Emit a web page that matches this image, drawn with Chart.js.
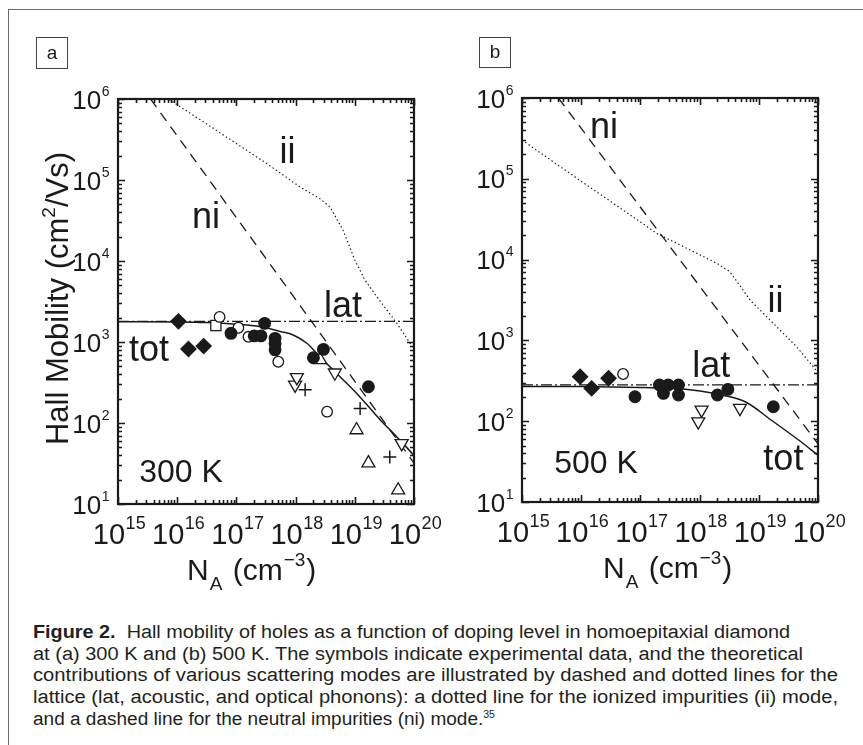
<!DOCTYPE html>
<html><head><meta charset="utf-8">
<script src="https://cdn.jsdelivr.net/npm/chart.js@4/dist/chart.umd.min.js"></script>
<style>
html,body{margin:0;padding:0;background:#fff;}
body{width:863px;height:745px;position:relative;overflow:hidden;font-family:"Liberation Sans",Arial,sans-serif;}
#frame{position:absolute;left:8px;top:9px;width:900px;height:800px;border-left:1.5px solid #6a6a6a;border-top:1.5px solid #6a6a6a;box-sizing:border-box;}
canvas{position:absolute;top:0;}
#cA{left:0;}
#cB{left:431px;}
#caption{position:absolute;left:33px;top:622px;font-size:18px;line-height:21.7px;color:#231f20;white-space:nowrap;}
#caption div{height:21.7px;transform-origin:0 0;}
#caption span{display:inline-block;}
#caption sup{font-size:10px;vertical-align:7px;line-height:0;}
</style>
</head>
<body>
<div id="frame"></div>
<canvas id="cA" width="460" height="600"></canvas>
<canvas id="cB" width="432" height="600"></canvas>
<div id="caption">
<div data-w="757"><span><b>Figure 2.</b>&nbsp; Hall mobility of holes as a function of doping level in homoepitaxial diamond</span></div>
<div data-w="770"><span>at (a) 300 K and (b) 500 K. The symbols indicate experimental data, and the theoretical</span></div>
<div data-w="805"><span>contributions of various scattering modes are illustrated by dashed and dotted lines for the</span></div>
<div data-w="805"><span>lattice (lat, acoustic, and optical phonons): a dotted line for the ionized impurities (ii) mode,</span></div>
<div data-w="462"><span>and a dashed line for the neutral impurities (ni) mode.<sup>35</sup></span></div>
</div>
<script>
// ---------- axis ticks ----------
const X_TICKS = [1e15, 1e16, 1e17, 1e18, 1e19, 1e20];
const X_TICK_EXP = ['15', '16', '17', '18', '19', '20'];
const Y_TICKS = [1e1, 1e2, 1e3, 1e4, 1e5, 1e6];
const Y_TICK_EXP = ['1', '2', '3', '4', '5', '6'];

// ---------- panel a : 300 K ----------
const a_filledDiamond_N = [1.05e16, 1.55e16, 2.8e16];
const a_filledDiamond_mu = [1800, 820, 890];
const a_openSquare_N = [4.5e16];
const a_openSquare_mu = [1600];
const a_openCircle_N = [5.2e16, 1.08e17, 1.6e17, 5.1e17, 3.4e18];
const a_openCircle_mu = [2040, 1500, 1160, 570, 138];
const a_filledCircle_N = [8.1e16, 2.0e17, 2.6e17, 3.0e17, 4.5e17, 4.5e17, 4.5e17, 2.0e18, 2.95e18, 1.7e19];
const a_filledCircle_mu = [1280, 1190, 1190, 1700, 1110, 960, 800, 640, 810, 280];
const a_downTri_N = [9.8e17, 1.05e18, 4.6e18, 6.2e19];
const a_downTri_mu = [295, 366, 417, 56];
const a_upTri_N = [2.6e18, 1.07e19, 1.7e19, 5.4e19];
const a_upTri_mu = [600, 82, 32, 14.8];
const a_plus_N = [1.45e18, 1.23e19, 3.9e19];
const a_plus_mu = [258, 151, 38];

const a_lat_N = [1e15, 1e20];
const a_lat_mu = [1800, 1800];
const a_ni_N = [3.55e15, 1e20];
const a_ni_mu = [1e6, 32];
const a_ii_N = [5.6e15, 3.16e16, 1e17, 3.16e17, 1.19e18, 2.57e18, 3.8e18, 4.37e18, 6.3e18, 1e19, 1.48e19, 2.37e19, 5.1e19, 8.5e19, 1e20];
const a_ii_mu = [1.12e6, 490000, 282000, 162000, 82000, 58900, 46500, 38900, 24200, 10300, 5820, 3600, 1720, 973, 851];
const a_tot_N = [1e15, 1e16, 3.16e16, 1e17, 2.5e17, 5.5e17, 9.1e17, 1.55e18, 2.57e18, 4.9e18, 1.07e19, 2.7e19, 5.1e19, 1e20];
const a_tot_mu = [1780, 1770, 1740, 1660, 1550, 1350, 1220, 964, 658, 411, 233, 109, 67.8, 39.8];

// ---------- panel b : 500 K ----------
const b_filledDiamond_N = [9.6e15, 1.5e16, 2.9e16];
const b_filledDiamond_mu = [356, 255, 340];
const b_openCircle_N = [5.1e16];
const b_openCircle_mu = [384];
const b_filledCircle_N = [8.1e16, 2.1e17, 2.45e17, 2.95e17, 4.4e17, 4.4e17, 2.0e18, 3.0e18, 1.76e19];
const b_filledCircle_mu = [201, 281, 221, 281, 281, 211, 211, 248, 151];
const b_downTri_N = [1.08e18, 9.5e17, 4.8e18];
const b_downTri_mu = [138, 99, 145];

const b_lat_N = [1e15, 1e20];
const b_lat_mu = [281, 281];
const b_ni_N = [4.12e15, 1e20];
const b_ni_mu = [1e6, 52.5];
const b_ii_N = [1e15, 1e16, 1e17, 1.88e17, 1e18, 2e18, 3.24e18, 5e18, 7.1e18, 2e19, 4.37e19, 8.3e19, 1e20];
const b_ii_mu = [302000, 93300, 29200, 21100, 11500, 8900, 7080, 4570, 3160, 1480, 832, 473, 398];
const b_tot_N = [1e15, 1e16, 1e17, 3.16e17, 7.4e17, 2.34e18, 5.9e18, 1.66e19, 4.7e19, 1e20];
const b_tot_mu = [269, 268, 262, 255, 243, 211, 174, 102, 58.5, 38];

// ---------- helpers ----------
const pts = (N, mu) => N.map((x, i) => ({x: x, y: mu[i]}));
const INK = '#1a1a1a';

function markers(N, mu, style) {
  return Object.assign({data: pts(N, mu), showLine: false, order: 0,
    pointBorderColor: INK, pointBorderWidth: 1.3}, style);
}
function curve(N, mu, style) {
  return Object.assign({data: pts(N, mu), showLine: true, order: 1, pointRadius: 0,
    borderColor: INK, borderWidth: 1.3, fill: false}, style);
}
const S = {
  filledCircle: {pointStyle: 'circle', pointRadius: 5.8, pointBackgroundColor: INK},
  openCircle: {pointStyle: 'circle', pointRadius: 5.3, pointBackgroundColor: '#fff'},
  filledDiamond: {pointStyle: 'rectRot', pointRadius: 7.5, pointBackgroundColor: INK},
  openSquare: {pointStyle: 'rect', pointRadius: 7.2, pointBackgroundColor: '#fff'},
  downTri: {pointStyle: 'triangle', pointRadius: 7.5, pointRotation: 180, pointBackgroundColor: '#fff'},
  upTri: {pointStyle: 'triangle', pointRadius: 7.5, pointBackgroundColor: '#fff'},
  plus: {pointStyle: 'cross', pointRadius: 6.5, pointBorderWidth: 1.5}
};
const L = {
  lat: {borderDash: [11, 3, 2, 3], borderWidth: 1.2},
  ni: {borderDash: [10, 7], borderWidth: 1.3},
  ii: {borderDash: [1.4, 2.6], borderWidth: 1.2},
  tot: {borderWidth: 1.5, cubicInterpolationMode: 'monotone'}
};

const FONT = s => s + 'px "Liberation Sans", Arial, sans-serif';

function drawPow(ctx, x, y, exp, baseSize, supSize, supRise, align) {
  ctx.font = FONT(baseSize);
  const wb = ctx.measureText('10').width;
  ctx.font = FONT(supSize);
  const ws = ctx.measureText(exp).width;
  const x0 = align === 'right' ? x - wb - ws : x - (wb + ws) / 2;
  ctx.textAlign = 'left';
  ctx.textBaseline = 'alphabetic';
  ctx.font = FONT(baseSize);
  ctx.fillText('10', x0, y);
  ctx.font = FONT(supSize);
  ctx.fillText(exp, x0 + wb + 0.5, y - supRise);
}

const decor = {
  id: 'decor',
  afterDatasetsDraw(chart, args, o) {
    const ctx = chart.ctx, xs = chart.scales.x, ys = chart.scales.y, ca = chart.chartArea;
    const W = ca.right - ca.left, H = ca.bottom - ca.top;
    ctx.save();
    ctx.fillStyle = INK; ctx.strokeStyle = INK;
    // ticks (inward, all four sides)
    ctx.lineWidth = 1.6;
    ctx.beginPath();
    X_TICKS.forEach(d => {
      for (let k = 1; k <= 9; k++) {
        const v = d * k; if (v > X_TICKS[X_TICKS.length - 1]) break;
        const p = Math.round(xs.getPixelForValue(v)) + 0.5;
        const len = k === 1 ? 7 : 4;
        ctx.moveTo(p, ca.bottom); ctx.lineTo(p, ca.bottom - len);
        ctx.moveTo(p, ca.top); ctx.lineTo(p, ca.top + len);
      }
    });
    Y_TICKS.forEach(d => {
      for (let k = 1; k <= 9; k++) {
        const v = d * k; if (v > Y_TICKS[Y_TICKS.length - 1]) break;
        const p = Math.round(ys.getPixelForValue(v)) + 0.5;
        const len = k === 1 ? 7 : 4;
        ctx.moveTo(ca.left, p); ctx.lineTo(ca.left + len, p);
        ctx.moveTo(ca.right, p); ctx.lineTo(ca.right - len, p);
      }
    });
    ctx.stroke();
    // frame
    ctx.lineWidth = 2.2;
    ctx.strokeRect(ca.left, ca.top, W, H);
    // y tick labels
    Y_TICKS.forEach((v, i) => {
      const p = ys.getPixelForValue(v);
      drawPow(ctx, ca.left - 9, p + 9.5, Y_TICK_EXP[i], 26, 14, 13, 'right');
    });
    // x tick labels
    X_TICKS.forEach((v, i) => {
      const p = xs.getPixelForValue(v);
      drawPow(ctx, p + 1, ca.bottom + 40, X_TICK_EXP[i], 29, 18, 15, 'center');
    });
    // x axis title N_A (cm^-3)
    let x = o.xTitleX;
    const y = ca.bottom + 76;
    ctx.textAlign = 'left'; ctx.textBaseline = 'alphabetic';
    ctx.font = FONT(30); ctx.fillText('N', x, y); x += ctx.measureText('N').width + 1;
    ctx.font = FONT(19); ctx.fillText('A', x, y + 10); x += ctx.measureText('A').width + 2;
    ctx.font = FONT(30); ctx.fillText(' (cm', x, y); x += ctx.measureText(' (cm').width + 1;
    ctx.font = FONT(19); ctx.fillText('\u22123', x, y - 14); x += ctx.measureText('\u22123').width + 1;
    ctx.font = FONT(30); ctx.fillText(')', x, y);
    // y axis title
    if (o.yTitle) {
      ctx.save();
      ctx.translate(o.yTitleX, (ca.top + ca.bottom) / 2 - 3);
      ctx.rotate(-Math.PI / 2);
      const parts = [['Hall Mobility (cm', 31, 0], ['2', 19, 13], ['/Vs)', 31, 0]];
      let tw = 0;
      parts.forEach(p => { ctx.font = FONT(p[1]); tw += ctx.measureText(p[0]).width; });
      let px = -tw / 2;
      parts.forEach(p => { ctx.font = FONT(p[1]); ctx.fillText(p[0], px, -p[2]); px += ctx.measureText(p[0]).width; });
      ctx.restore();
    }
    // annotations
    o.notes.forEach(n => {
      ctx.font = FONT(n[3]); ctx.textAlign = 'center'; ctx.textBaseline = 'alphabetic';
      ctx.fillText(n[0], ca.left + n[1] * W, ca.top + n[2] * H);
    });
    // panel letter box
    ctx.lineWidth = 1; ctx.strokeStyle = '#444';
    ctx.strokeRect(o.box[0] + 0.5, o.box[1] + 0.5, o.box[2], o.box[3]);
    ctx.font = FONT(19); ctx.textAlign = 'center'; ctx.textBaseline = 'middle';
    ctx.fillText(o.letter, o.box[0] + o.box[2] / 2 + 0.5, o.box[1] + o.box[3] / 2 + 1);
    ctx.restore();
  }
};

function makeChart(id, datasets, pad, deco) {
  return new Chart(document.getElementById(id), {
    type: 'scatter',
    data: {datasets: datasets},
    plugins: [decor],
    options: {
      responsive: false, animation: false, devicePixelRatio: 1,
      layout: {padding: pad},
      plugins: {legend: {display: false}, tooltip: {enabled: false}, decor: deco},
      scales: {
        x: {type: 'logarithmic', min: X_TICKS[0], max: X_TICKS[X_TICKS.length - 1], display: false},
        y: {type: 'logarithmic', min: Y_TICKS[0], max: Y_TICKS[Y_TICKS.length - 1], display: false}
      }
    }
  });
}

Chart.defaults.font.family = '"Liberation Sans", Arial, sans-serif';

makeChart('cA', [
  markers(a_filledCircle_N, a_filledCircle_mu, S.filledCircle),
  markers(a_openCircle_N, a_openCircle_mu, S.openCircle),
  markers(a_filledDiamond_N, a_filledDiamond_mu, S.filledDiamond),
  markers(a_openSquare_N, a_openSquare_mu, S.openSquare),
  markers(a_downTri_N, a_downTri_mu, S.downTri),
  markers(a_upTri_N, a_upTri_mu, S.upTri),
  markers(a_plus_N, a_plus_mu, S.plus),
  curve(a_tot_N, a_tot_mu, L.tot),
  curve(a_lat_N, a_lat_mu, L.lat),
  curve(a_ni_N, a_ni_mu, L.ni),
  curve(a_ii_N, a_ii_mu, L.ii)
], {left: 118, right: 46, top: 99, bottom: 96}, {
  letter: 'a', box: [36, 37, 31, 31], yTitle: true, yTitleX: 68, xTitleX: 187,
  notes: [['ii', 0.573, 0.158, 36], ['ni', 0.297, 0.318, 36], ['lat', 0.760, 0.5375, 36],
          ['tot', 0.105, 0.647, 36], ['300 K', 0.213, 0.945, 32]]
});

makeChart('cB', [
  markers(b_filledCircle_N, b_filledCircle_mu, S.filledCircle),
  markers(b_openCircle_N, b_openCircle_mu, S.openCircle),
  markers(b_filledDiamond_N, b_filledDiamond_mu, S.filledDiamond),
  markers(b_downTri_N, b_downTri_mu, S.downTri),
  curve(b_tot_N, b_tot_mu, L.tot),
  curve(b_lat_N, b_lat_mu, L.lat),
  curve(b_ni_N, b_ni_mu, L.ni),
  curve(b_ii_N, b_ii_mu, L.ii)
], {left: 91, right: 45, top: 98, bottom: 98}, {
  letter: 'b', box: [48, 37, 31, 30], yTitle: false, xTitleX: 172,
  notes: [['ni', 0.277, 0.099, 36], ['ii', 0.856, 0.529, 36], ['lat', 0.639, 0.690, 36],
          ['tot', 0.883, 0.921, 36], ['500 K', 0.25, 0.929, 32]]
});

// caption: condensed face in original -> fit each line to its measured width
document.querySelectorAll('#caption > div').forEach(d => {
  const w = d.firstElementChild.getBoundingClientRect().width;
  d.style.transform = 'scaleX(' + (parseFloat(d.dataset.w) / w) + ')';
});
</script>
</body></html>
